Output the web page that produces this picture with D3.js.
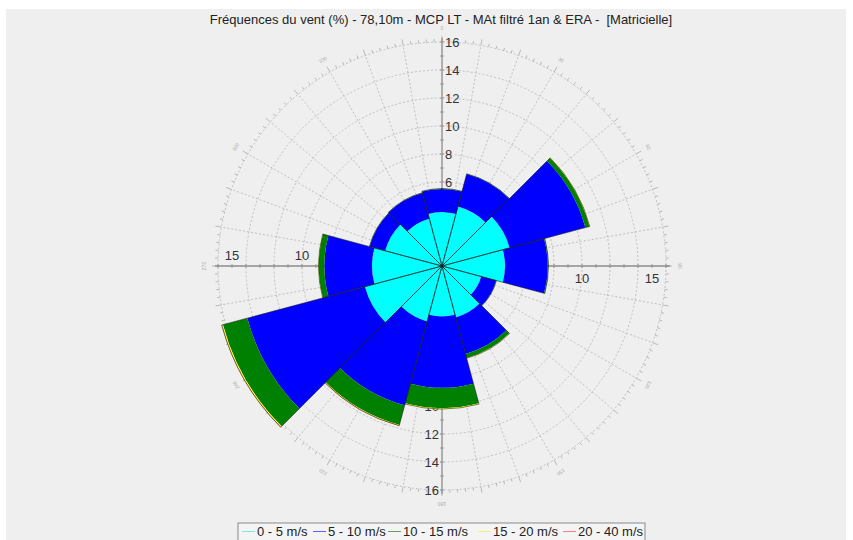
<!DOCTYPE html>
<html>
<head>
<meta charset="utf-8">
<script src="https://cdn.jsdelivr.net/npm/d3@7"></script>
<style>
  body { margin: 0; background: #fff; }
  svg { display: block; font-family: "Liberation Sans", Arial, sans-serif; }
</style>
</head>
<body>
<div id="chart"></div>
<script>
const W = 853, H = 540;
const CX = 442, CY = 266;

const title = "Fréquences du vent (%) - 78,10m - MCP LT - MAt filtré 1an & ERA -  [Matricielle]";

// directions (deg), 30° sectors
const directions = [0, 30, 60, 90, 120, 150, 180, 210, 240, 270, 300, 330];
// frequency (%) per speed class
const s0_5   = [3.85, 4.4, 5.0, 4.5, 2.9, 3.8, 3.6, 4.1, 5.7, 5.0, 4.2, 3.5];
const s5_10  = [1.65, 2.4, 5.6, 3.05, 1.1, 2.7, 5.1, 6.2, 8.7, 3.4, 1.15, 1.9];
const s10_15 = [0.03, 0.02, 0.3, 0.05, 0.02, 0.3, 1.45, 1.45, 1.8, 0.4, 0.02, 0.02];
const s15_20 = [0, 0, 0.03, 0, 0, 0.02, 0.05, 0.05, 0.07, 0.02, 0, 0];
const s20_40 = [0, 0, 0, 0, 0, 0, 0.01, 0.01, 0.02, 0, 0, 0];

const classes = ["0 - 5 m/s", "5 - 10 m/s", "10 - 15 m/s", "15 - 20 m/s", "20 - 40 m/s"];
const colors = ["#00ffff", "#0000ff", "#008000", "#ffff00", "#ff0000"];
const legendColors = ["#7fe8d8", "#6060ff", "#5fa05f", "#f0f080", "#ff8080"];

const vTicks = [2, 4, 6, 8, 10, 12, 14, 16];
const hTicks = [5, 10, 15];

const rows = directions.map((d, i) => ({
  dir: d, k0: s0_5[i], k1: s5_10[i], k2: s10_15[i], k3: s15_20[i], k4: s20_40[i]
}));
const keys = ["k0", "k1", "k2", "k3", "k4"];
const series = d3.stack().keys(keys)(rows);

const r = d3.scaleLinear().domain([0, 16]).range([0, 224]);
const rad = d => d * Math.PI / 180;

const svg = d3.select("#chart").append("svg")
  .attr("width", W).attr("height", H);

svg.append("rect")
  .attr("x", 6).attr("y", 9).attr("width", 840).attr("height", 540)
  .attr("fill", "#efefef");

svg.append("text")
  .attr("x", 441).attr("y", 24)
  .attr("text-anchor", "middle")
  .attr("font-size", 13).attr("fill", "#222")
  .style("white-space", "pre")
  .text(title);

const g = svg.append("g").attr("transform", `translate(${CX},${CY})`);

// grid: dashed circles
g.selectAll("circle.grid")
  .data(d3.range(2, 17, 2))
  .enter().append("circle")
  .attr("r", d => r(d))
  .attr("fill", "none")
  .attr("stroke", "#b4b4b4")
  .attr("stroke-width", 0.8)
  .attr("stroke-dasharray", "2,2");

// grid: dashed radial lines every 10°
g.selectAll("line.spoke")
  .data(d3.range(0, 360, 10).filter(a => a % 90 !== 0))
  .enter().append("line")
  .attr("x1", 0).attr("y1", 0)
  .attr("x2", a => r(16) * Math.sin(rad(a)))
  .attr("y2", a => -r(16) * Math.cos(rad(a)))
  .attr("stroke", "#b4b4b4")
  .attr("stroke-width", 0.8)
  .attr("stroke-dasharray", "2,2");

// outer angular ticks every 2°
g.selectAll("line.atick")
  .data(d3.range(0, 360, 2))
  .enter().append("line")
  .attr("x1", a => r(16) * Math.sin(rad(a)))
  .attr("y1", a => -r(16) * Math.cos(rad(a)))
  .attr("x2", a => (r(16) + (a % 10 === 0 ? 6 : 3)) * Math.sin(rad(a)))
  .attr("y2", a => -(r(16) + (a % 10 === 0 ? 6 : 3)) * Math.cos(rad(a)))
  .attr("stroke", "#a0a0a0")
  .attr("stroke-width", 0.7);

// tiny degree labels
g.selectAll("text.deg")
  .data(d3.range(0, 360, 30))
  .enter().append("text")
  .attr("transform", a => {
    const x = 238 * Math.sin(rad(a)), y = -238 * Math.cos(rad(a));
    return `translate(${x},${y}) rotate(${a})`;
  })
  .attr("text-anchor", "middle")
  .attr("dy", "0.35em")
  .attr("font-size", 5)
  .attr("fill", "#aaa")
  .text(a => a);

// axes
g.append("line").attr("x1", 0).attr("x2", 0).attr("y1", -228).attr("y2", 228)
  .attr("stroke", "#8c8c8c").attr("stroke-width", 1.3);
g.append("line").attr("y1", 0).attr("y2", 0).attr("x1", -227).attr("x2", 228)
  .attr("stroke", "#8c8c8c").attr("stroke-width", 1.3);

// axis ticks
const axisTicks = d3.range(1, 17, 1);
g.selectAll("line.vt")
  .data(axisTicks.flatMap(v => [v, -v]))
  .enter().append("line")
  .attr("x1", -2).attr("x2", 2)
  .attr("y1", d => d > 0 ? -r(d) : r(-d))
  .attr("y2", d => d > 0 ? -r(d) : r(-d))
  .attr("stroke", "#8c8c8c").attr("stroke-width", 0.8);
g.selectAll("line.ht")
  .data(axisTicks.flatMap(v => [v, -v]))
  .enter().append("line")
  .attr("y1", -2).attr("y2", 2)
  .attr("x1", d => d > 0 ? r(d) : -r(-d))
  .attr("x2", d => d > 0 ? r(d) : -r(-d))
  .attr("stroke", "#8c8c8c").attr("stroke-width", 0.8);

// axis labels
const labSize = 13, labFill = "#333";
g.selectAll("text.top").data(vTicks).enter().append("text")
  .attr("x", 3).attr("y", d => -r(d)).attr("dy", "0.35em")
  .attr("font-size", labSize).attr("fill", labFill)
  .text(d => d);
g.selectAll("text.bot").data(vTicks).enter().append("text")
  .attr("x", -3).attr("y", d => r(d)).attr("dy", "0.35em")
  .attr("text-anchor", "end")
  .attr("font-size", labSize).attr("fill", labFill)
  .text(d => d);
g.selectAll("text.left").data(hTicks).enter().append("text")
  .attr("x", d => -r(d)).attr("y", -6)
  .attr("text-anchor", "middle")
  .attr("font-size", labSize).attr("fill", labFill)
  .text(d => d);
g.selectAll("text.right").data(hTicks).enter().append("text")
  .attr("x", d => r(d)).attr("y", 17)
  .attr("text-anchor", "middle")
  .attr("font-size", labSize).attr("fill", labFill)
  .text(d => d);

// rose sectors
const arc = d3.arc()
  .innerRadius(d => r(d[0]))
  .outerRadius(d => r(d[1]))
  .startAngle(d => rad(d.data.dir - 15))
  .endAngle(d => rad(d.data.dir + 15));

g.selectAll("g.layer")
  .data(series)
  .enter().append("g")
  .attr("fill", (s, i) => colors[i])
  .selectAll("path")
  .data(s => s)
  .enter().append("path")
  .attr("d", arc);

// sector outlines
const outline = d3.arc()
  .innerRadius(0)
  .outerRadius((d, i) => r(series[series.length - 1][i][1]))
  .startAngle(d => rad(d.dir - 15))
  .endAngle(d => rad(d.dir + 15));
g.selectAll("path.outline")
  .data(rows)
  .enter().append("path")
  .attr("d", (d, i) => outline(d, i))
  .attr("fill", "none")
  .attr("stroke", "#1a1a1a")
  .attr("stroke-opacity", 0.8)
  .attr("stroke-width", 0.7);

// legend
const legend = svg.append("g").attr("transform", "translate(238,523)");
legend.append("rect")
  .attr("width", 407).attr("height", 20)
  .attr("fill", "#f4f4f4").attr("stroke", "#8a8a8a");
const lx = [4, 75, 150, 240, 325];
const item = legend.selectAll("g.item").data(classes).enter().append("g")
  .attr("transform", (d, i) => `translate(${lx[i]},0)`);
item.append("line")
  .attr("x1", 0).attr("x2", 13).attr("y1", 8.5).attr("y2", 8.5)
  .attr("stroke", (d, i) => legendColors[i]).attr("stroke-width", 1);
item.append("text")
  .attr("x", 15).attr("y", 13)
  .attr("font-size", 13).attr("fill", "#222")
  .text(d => d);
</script>
</body>
</html>
